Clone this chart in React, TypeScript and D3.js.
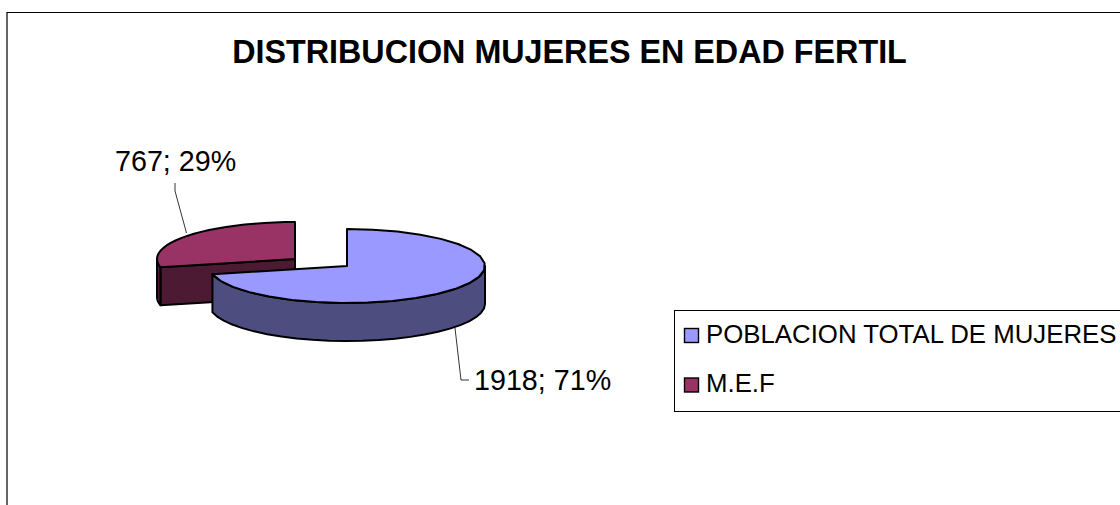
import React from "react";
import * as d3 from "d3";

const titleText = "DISTRIBUCION MUJERES EN EDAD FERTIL";
const categories = ["POBLACION TOTAL DE MUJERES", "M.E.F"];
const values = [1918, 767];
const percents = [71, 29];
const topColors = ["#9999FF", "#993366"];
const sideColors = ["#4D4D80", "#4D1A33"];

const W = 1120, H = 505;
const RX = 138, RY = 37, DEPTH = 38;
const centers: [number, number][] = [[347, 266], [295, 259]];

const slices = d3.pie<number>().sort(null)(values);

const pt = (c: [number, number], a: number, dy = 0): [number, number] => [
  c[0] + RX * Math.sin(a),
  c[1] - RY * Math.cos(a) + dy,
];
const line = d3.line<[number, number]>();
const rimPts = (c: [number, number], a0: number, a1: number, dy = 0) =>
  d3.range(0, 25).map((i) => pt(c, a0 + ((a1 - a0) * i) / 24, dy));

const topFace = (i: number) =>
  line([centers[i], ...rimPts(centers[i], slices[i].startAngle, slices[i].endAngle)]) + "Z";

const wall = (i: number, a0: number, a1: number) => {
  const c = centers[i];
  return line([...rimPts(c, a0, a1), ...rimPts(c, a0, a1, DEPTH).reverse()]) + "Z";
};

const mefCut = () => {
  const c = centers[1];
  const e = pt(c, slices[1].startAngle);
  const eb = pt(c, slices[1].startAngle, DEPTH);
  return line([c, e, eb, [c[0], c[1] + DEPTH]]) + "Z";
};

const stroke = { stroke: "#000", strokeWidth: 2, strokeLinejoin: "round" as const };
const font = "'Liberation Sans', Arial, sans-serif";

export default function App() {
  const blueWallStart = Math.PI / 2;
  return (
    <svg width={W} height={H} style={{ position: "absolute", left: 0, top: 0, display: "block" }} fontFamily={font}>
      <rect x={0} y={0} width={W} height={H} fill="#fff" />
      <path d={`M7 ${H + 2}V12.5H${W + 2}`} fill="none" stroke="#000" strokeWidth={1.2} />
      <text x={569.5} y={63} textAnchor="middle" fontSize={32.3} fontWeight="bold">{titleText}</text>

      {/* MEF slice */}
      <path d={mefCut()} fill={sideColors[1]} {...stroke} />
      <path d={wall(1, slices[1].startAngle, 1.5 * Math.PI)} fill={sideColors[1]} {...stroke} />
      <path d={topFace(1)} fill={topColors[1]} {...stroke} />

      {/* Population slice */}
      <path d={wall(0, blueWallStart, slices[0].endAngle)} fill={sideColors[0]} {...stroke} />
      <path d={topFace(0)} fill={topColors[0]} {...stroke} />

      {/* Leaders and labels */}
      <path d="M175 183V191L186.5 233" fill="none" stroke="#000" strokeWidth={0.8} />
      <path d="M455 328L461 380H469" fill="none" stroke="#000" strokeWidth={0.8} />
      <text x={115} y={171} fontSize={28.7}>{`${values[1]}; ${percents[1]}%`}</text>
      <text x={474} y={390} fontSize={28.7}>{`${values[0]}; ${percents[0]}%`}</text>

      {/* Legend */}
      <rect x={674.5} y={310.5} width={W} height={101} fill="#fff" stroke="#000" strokeWidth={1} />
      {categories.map((c, i) => (
        <g key={c}>
          <rect x={684.5} y={[328.5, 378][i]} width={14} height={14} fill={topColors[i]} stroke="#000" strokeWidth={1.4} />
          <text x={706} y={[342.5, 392][i]} fontSize={25.8}>{c}</text>
        </g>
      ))}
    </svg>
  );
}
